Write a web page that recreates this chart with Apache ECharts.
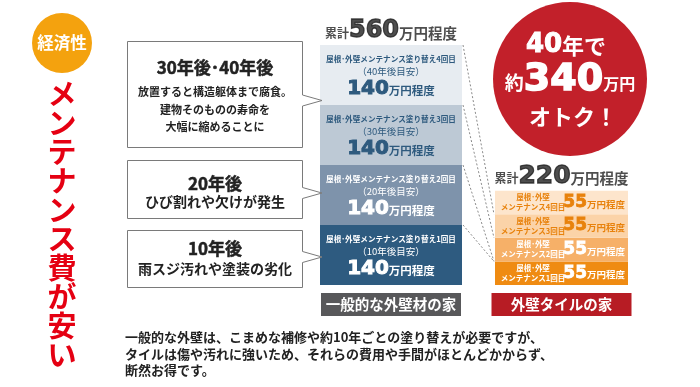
<!DOCTYPE html>
<html><head><meta charset="utf-8">
<script src="https://cdn.jsdelivr.net/npm/echarts@6/dist/echarts.min.js"></script>
<style>html,body{margin:0;padding:0;background:#fff;}#c{width:700px;height:387px;}</style>
</head><body><div id="c"></div>
<script>
// ---- data ----
const houses = ['一般的な外壁材の家', '外壁タイルの家'];
const rounds = [1, 2, 3, 4];
const yearsAfter = [10, 20, 30, 40];
const generalCosts = [140, 140, 140, 140];
const tileCosts = [55, 55, 55, 55];
const calloutTitles = ['30年後･40年後', '20年後', '10年後'];
const calloutTexts = [
  ['放置すると構造躯体まで腐食。', '建物そのものの寿命を', '大幅に縮めることに'],
  ['ひび割れや欠けが発生'],
  ['雨スジ汚れや塗装の劣化']
];
const headBadge = '経済性';
const headTitle = 'メンテナンス費が安い';
const noteLines = [
  '一般的な外壁は、こまめな補修や約10年ごとの塗り替えが必要ですが、',
  'タイルは傷や汚れに強いため、それらの費用や手間がほとんどかからず、',
  '断然お得です。'
];
const savingYears = 40;

// ---- styles ----
const CJK = '"Noto Sans CJK JP", sans-serif';
const NUM = '"DejaVu Sans", sans-serif';
const genColors = ['#2e5b80', '#7e93ab', '#bdc9d5', '#e7ecf1'];
const genText = ['#ffffff', '#ffffff', '#2e5a7e', '#2e5a7e'];
const tileColors = ['#ef8b12', '#f6b068', '#fbd3a8', '#fde5cc'];
const tileText = ['#ffffff', '#ffffff', '#e8820c', '#e8820c'];

const sum = a => a.reduce((s, v) => s + v, 0);
const generalTotal = sum(generalCosts);
const tileTotal = sum(tileCosts);
const saving = generalTotal - tileTotal;

const G = {left: 320, width: 142};
const T = {left: 495, width: 133};
const TOP = 45, HEIGHT = 240;

const chart = echarts.init(document.getElementById('c'));

const heavy = (c, w) => ({textBorderColor: c, textBorderWidth: w});

const series = [];
rounds.forEach((r, i) => {
  series.push({
    type: 'bar', xAxisIndex: 0, yAxisIndex: 0, stack: 'g',
    data: [generalCosts[i]], barWidth: '100%',
    itemStyle: {color: genColors[i]},
    label: {
      show: true, position: 'insideTop', distance: 9,
      formatter: () => '{a|屋根･外壁メンテナンス塗り替え' + r + '回目}\n{b|（' + yearsAfter[i] + '年後目安）}\n{n|' + generalCosts[i] + '}{u|万円程度}',
      rich: {
        a: {fontFamily: CJK, fontSize: 7.6, fontWeight: 'bold', color: genText[i], lineHeight: 11, align: 'center'},
        b: {fontFamily: CJK, fontSize: 9.5, color: genText[i], lineHeight: 12, align: 'center'},
        n: Object.assign({fontFamily: NUM, fontSize: 20, fontWeight: 'bold', color: genText[i], lineHeight: 24}, heavy(genText[i], 1)),
        u: {fontFamily: CJK, fontSize: 11.5, fontWeight: 'bold', color: genText[i], lineHeight: 24, padding: [3, 0, 0, 0]}
      }
    }
  });
});
rounds.forEach((r, i) => {
  series.push({
    type: 'bar', xAxisIndex: 1, yAxisIndex: 1, stack: 'tA',
    data: [tileCosts[i]], barWidth: '100%', barGap: '-100%',
    itemStyle: {color: tileColors[i]},
    label: {
      show: true, position: [38, '50%'], align: 'center', verticalAlign: 'middle',
      formatter: () => '{a|屋根･外壁}\n{a|メンテナンス' + r + '回目}',
      rich: {a: {fontFamily: CJK, fontSize: 7.5, fontWeight: 'bold', color: tileText[i], lineHeight: 10, align: 'center'}}
    }
  });
});
rounds.forEach((r, i) => {
  series.push({
    type: 'bar', xAxisIndex: 1, yAxisIndex: 1, stack: 'tB',
    data: [tileCosts[i]], barWidth: '100%', barGap: '-100%',
    itemStyle: {color: 'rgba(0,0,0,0)'},
    label: {
      show: true, position: 'insideRight', distance: 3,
      formatter: () => '{n|' + tileCosts[i] + '}{u|万円程度}',
      rich: {
        n: Object.assign({fontFamily: NUM, fontSize: 17, fontWeight: 'bold', color: tileText[i], lineHeight: 20}, heavy(tileText[i], 0.8)),
        u: {fontFamily: CJK, fontSize: 9.5, fontWeight: 'bold', color: tileText[i], lineHeight: 20, padding: [3, 0, 0, 0]}
      }
    }
  });
});
const totalLabel = (total, nSize) => ({
  show: true, position: 'top', distance: 1,
  formatter: () => '{s|累計}{n|' + total + '}{u|万円程度}',
  rich: {
    s: {fontFamily: CJK, fontSize: 12, fontWeight: 'bold', color: '#222', padding: [4, 0, 0, 0]},
    n: Object.assign({fontFamily: NUM, fontSize: nSize, fontWeight: 'bold', color: '#222', lineHeight: 26}, heavy('#222', 1.3)),
    u: {fontFamily: CJK, fontSize: 14.5, fontWeight: 'bold', color: '#222', padding: [4, 0, 0, 0]}
  }
});
series.push({type: 'scatter', xAxisIndex: 0, yAxisIndex: 0, symbolSize: 0, data: [[0, generalTotal]], label: totalLabel(generalTotal, 24), z: 5});
series.push({type: 'scatter', xAxisIndex: 1, yAxisIndex: 1, symbolSize: 0, data: [[0, tileTotal]], label: totalLabel(tileTotal, 25), z: 5});

const axisLab = (bg) => ({
  interval: 0, margin: 8, color: '#fff', fontFamily: CJK, fontSize: 14.5, fontWeight: 'bold',
  backgroundColor: bg, width: 140, height: 23, lineHeight: 23, align: 'center'
});

// graphic elements (zrender text: stroke/lineWidth thicken glyphs)
const gHeavy = (c, w) => ({stroke: c, lineWidth: w});
const graphic = [];
graphic.push({type: 'circle', shape: {cx: 62, cy: 43, r: 30}, style: {fill: '#f4a20e'}});
graphic.push({type: 'text', x: 62, y: 43, style: {text: headBadge, fontFamily: CJK, fontSize: 16.5, fontWeight: 'bold', fill: '#fff', align: 'center', verticalAlign: 'middle'}});
graphic.push({type: 'text', x: 62, y: 79, style: {text: headTitle.split('').join('\n'), fontFamily: CJK, fontSize: 29, fontWeight: 'bold', fill: '#e50012', align: 'center', verticalAlign: 'top', lineHeight: 29}});

const boxes = [
  {y0: 41.5, y1: 147.5, tip: 100.5, titleY: 68, lineY: [92, 110, 127], fs: 11},
  {y0: 160.5, y1: 218.5, tip: 193, titleY: 183.5, lineY: [202], fs: 14},
  {y0: 230.5, y1: 287.5, tip: 257, titleY: 248.5, lineY: [268.5], fs: 14}
];
boxes.forEach((b, i) => {
  graphic.push({type: 'polygon', z: 10, shape: {points: [
    [127.5, b.y0], [302.5, b.y0], [302.5, b.tip - 5.5], [322, b.tip], [302.5, b.tip + 5.5], [302.5, b.y1], [127.5, b.y1]
  ]}, style: {fill: '#fff', stroke: '#7a7a7a', lineWidth: 1}});
  graphic.push({type: 'text', z: 11, x: 215, y: b.titleY, style: Object.assign({text: calloutTitles[i], fontFamily: CJK, fontSize: 17, fontWeight: 'bold', fill: '#222', align: 'center', verticalAlign: 'middle'}, gHeavy('#222', 0.5))});
  calloutTexts[i].forEach((t, k) => {
    graphic.push({type: 'text', z: 11, x: 215, y: b.lineY[k], style: {text: t, fontFamily: CJK, fontSize: b.fs, fontWeight: 'bold', fill: '#222', align: 'center', verticalAlign: 'middle'}});
  });
});

graphic.push({type: 'circle', shape: {cx: 570, cy: 79, r: 77}, style: {fill: '#c2202a'}, z: 10});
graphic.push({type: 'text', z: 11, x: 566, y: 45, style: {
  text: '{n|' + savingYears + '}{c|年で}', align: 'center', verticalAlign: 'middle',
  rich: {n: Object.assign({fontFamily: NUM, fontSize: 26, fontWeight: 'bold', fill: '#fff'}, gHeavy('#fff', 1)), c: {fontFamily: CJK, fontSize: 22, fontWeight: 'bold', fill: '#fff', padding: [2, 0, 0, 0]}}}});
graphic.push({type: 'text', z: 11, x: 570, y: 80, style: {
  text: '{c|約}{n|' + saving + '}{u|万円}', align: 'center', verticalAlign: 'middle',
  rich: {c: {fontFamily: CJK, fontSize: 19, fontWeight: 'bold', fill: '#fff', padding: [6, 0, 0, 0]}, n: Object.assign({fontFamily: NUM, fontSize: 38, fontWeight: 'bold', fill: '#fff'}, gHeavy('#fff', 1.6)), u: {fontFamily: CJK, fontSize: 16, fontWeight: 'bold', fill: '#fff', padding: [8, 0, 0, 0]}}}});
graphic.push({type: 'text', z: 11, x: 573, y: 117, style: {text: 'オトク！', fontFamily: CJK, fontSize: 22, fontWeight: 'bold', fill: '#fff', align: 'center', verticalAlign: 'middle'}});

graphic.push({type: 'text', x: 125, y: 329, style: {text: noteLines.join('\n'), fontFamily: CJK, fontSize: 13, fontWeight: 'bold', fill: '#222', lineHeight: 16.5, align: 'left', verticalAlign: 'top'}});

chart.setOption({
  animation: false,
  grid: [
    {left: G.left, top: TOP, width: G.width, height: HEIGHT},
    {left: T.left, top: TOP, width: T.width, height: HEIGHT}
  ],
  xAxis: [
    {type: 'category', gridIndex: 0, data: [houses[0]], axisLine: {show: false}, axisTick: {show: false}, axisLabel: axisLab('#58585a')},
    {type: 'category', gridIndex: 1, data: [houses[1]], axisLine: {show: false}, axisTick: {show: false}, axisLabel: axisLab('#b71c24')}
  ],
  yAxis: [
    {type: 'value', gridIndex: 0, min: 0, max: 560, show: false},
    {type: 'value', gridIndex: 1, min: 0, max: 560, show: false}
  ],
  series: series,
  graphic: graphic
});

// dashed connectors between the two stacks (computed through the axes)
const cum = a => a.map((v, i) => sum(a.slice(0, i + 1)));
const gTops = cum(generalCosts);   // 140,280,420,560
const tTops = cum(tileCosts);      // 55,110,165,220
const links = [[3, 2], [2, 1], [1, 0], [0, 0]];
const lines = links.map(([gi, ti]) => {
  const a = chart.convertToPixel({xAxisIndex: 0, yAxisIndex: 0}, [0, gTops[gi]]);
  const b = chart.convertToPixel({xAxisIndex: 1, yAxisIndex: 1}, [0, tTops[ti]]);
  return {type: 'line', z: 3, shape: {x1: G.left + G.width + 1, y1: a[1], x2: T.left - 1, y2: b[1]},
    style: {stroke: '#8a8a8a', lineWidth: 1, lineDash: [2, 2]}};
});
chart.setOption({graphic: graphic.concat(lines)});
</script></body></html>
